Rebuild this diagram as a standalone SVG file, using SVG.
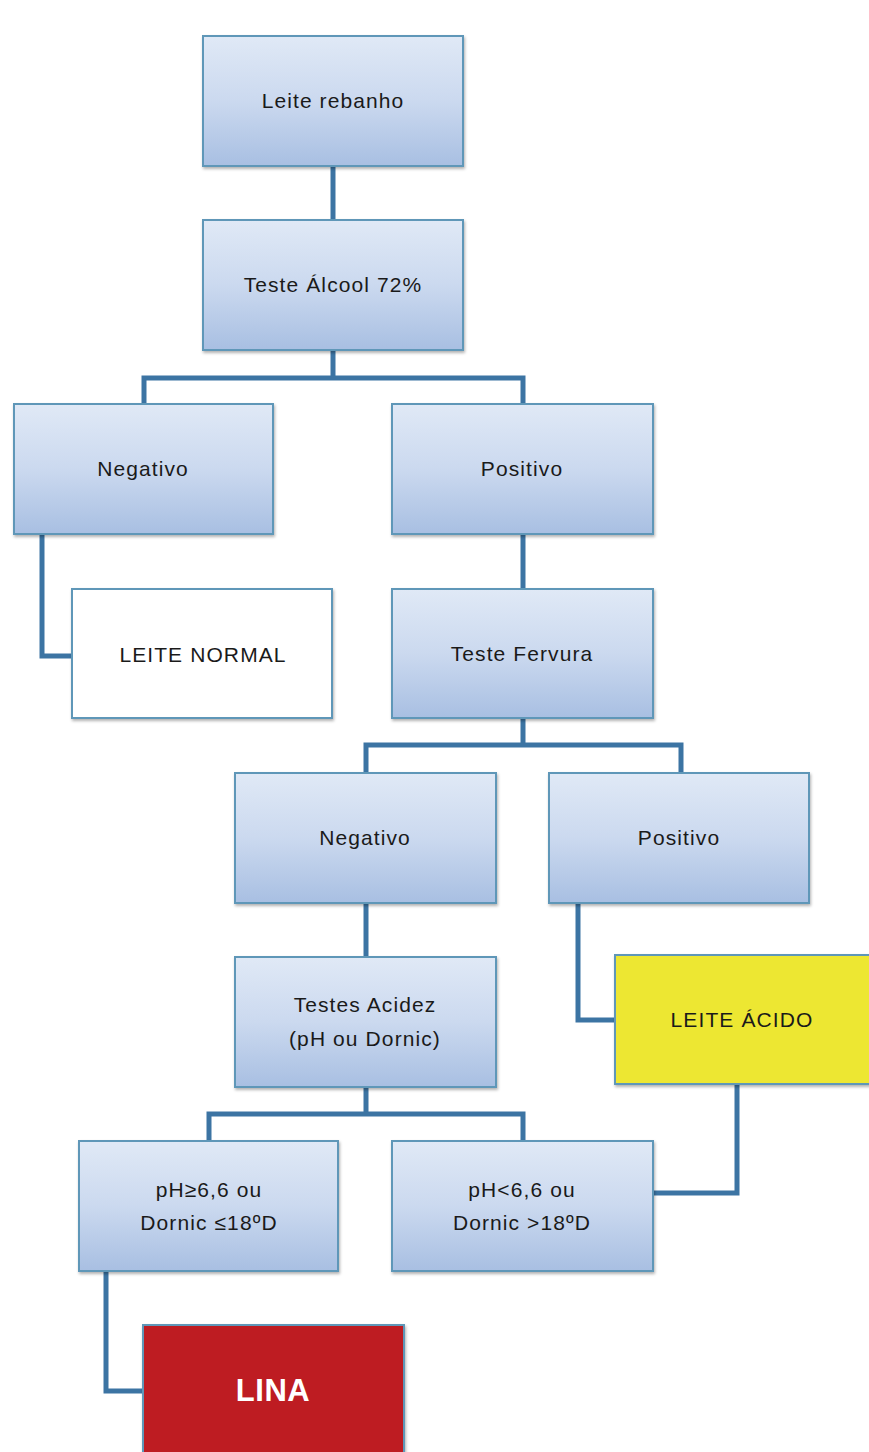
<svg xmlns="http://www.w3.org/2000/svg" width="869" height="1452" viewBox="0 0 869 1452">
<style>
.box{stroke:#5e97b8;stroke-width:2;filter:url(#sh)}
.blue{fill:url(#gb)}
.t{font-family:"Liberation Sans",Arial,sans-serif;font-size:21px;fill:#1a1a1a;text-anchor:middle;letter-spacing:1.1px}
.conn{fill:none;stroke:#3c74a3;stroke-width:5}
</style>
<defs>
<linearGradient id="gb" x1="0" y1="0" x2="0" y2="1">
<stop offset="0" stop-color="#e0e9f6"/>
<stop offset="0.5" stop-color="#cbd9ef"/>
<stop offset="1" stop-color="#a8bfe2"/>
</linearGradient>
<filter id="sh" x="-5%" y="-5%" width="115%" height="115%">
<feDropShadow dx="1" dy="2" stdDeviation="1.5" flood-color="#000" flood-opacity="0.3"/>
</filter>
</defs>
<rect width="869" height="1452" fill="#fff"/>
<g id="connectors">
<path class="conn" d="M333,166V220"/>
<path class="conn" d="M333,350V378M144,404V378H523V404"/>
<path class="conn" d="M42,534V656H72"/>
<path class="conn" d="M523,534V589"/>
<path class="conn" d="M523,718V745M366,773V745H681V773"/>
<path class="conn" d="M366,903V957"/>
<path class="conn" d="M578,903V1020H615"/>
<path class="conn" d="M366,1087V1114M209,1141V1114H523V1141"/>
<path class="conn" d="M653,1193H737V1084"/>
<path class="conn" d="M106,1271V1391H143"/>
</g>
<g id="n1"><rect class="box blue" x="203" y="36" width="260" height="130"/><text class="t" x="333" y="108">Leite rebanho</text></g>
<g id="n2"><rect class="box blue" x="203" y="220" width="260" height="130"/><text class="t" x="333" y="292">Teste Álcool 72%</text></g>
<g id="n3"><rect class="box blue" x="14" y="404" width="259" height="130"/><text class="t" x="143" y="476">Negativo</text></g>
<g id="n4"><rect class="box blue" x="392" y="404" width="261" height="130"/><text class="t" x="522" y="476">Positivo</text></g>
<g id="n5"><rect class="box" x="72" y="589" width="260" height="129" fill="#fff"/><text class="t" x="203" y="662">LEITE NORMAL</text></g>
<g id="n6"><rect class="box blue" x="392" y="589" width="261" height="129"/><text class="t" x="522" y="661">Teste Fervura</text></g>
<g id="n7"><rect class="box blue" x="235" y="773" width="261" height="130"/><text class="t" x="365" y="845">Negativo</text></g>
<g id="n8"><rect class="box blue" x="549" y="773" width="260" height="130"/><text class="t" x="679" y="845">Positivo</text></g>
<g id="n9"><rect class="box blue" x="235" y="957" width="261" height="130"/><text class="t" x="365" y="1012">Testes Acidez</text><text class="t" x="365" y="1046">(pH ou Dornic)</text></g>
<g id="n10"><rect class="box" x="615" y="955" width="260" height="129" fill="#ede733" stroke="#9aa060"/><text class="t" x="742" y="1027">LEITE ÁCIDO</text></g>
<g id="n11"><rect class="box blue" x="79" y="1141" width="259" height="130"/><text class="t" x="209" y="1197">pH≥6,6 ou</text><text class="t" x="209" y="1230">Dornic ≤18ºD</text></g>
<g id="n12"><rect class="box blue" x="392" y="1141" width="261" height="130"/><text class="t" x="522" y="1197">pH&lt;6,6 ou</text><text class="t" x="522" y="1230">Dornic &gt;18ºD</text></g>
<g id="n13"><rect class="box" x="143" y="1325" width="261" height="135" fill="#be1e24" stroke="#8a1a1a"/><text class="t" x="273" y="1401" style="font-size:31px;font-weight:bold;fill:#fff;letter-spacing:0.5px">LINA</text></g>
</svg>
